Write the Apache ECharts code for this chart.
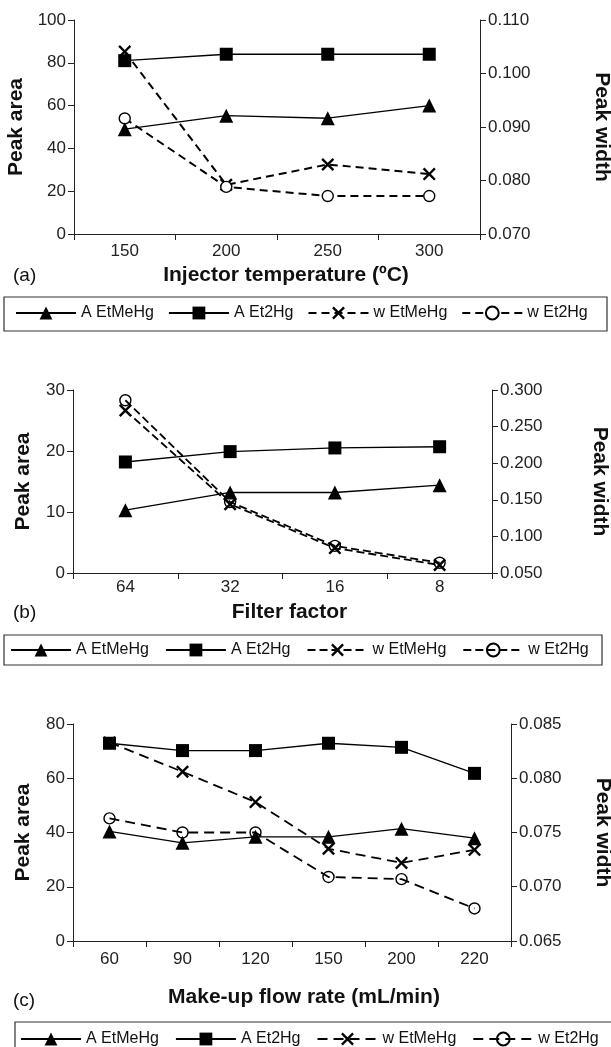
<!DOCTYPE html>
<html>
<head>
<meta charset="utf-8">
<script src="https://cdn.jsdelivr.net/npm/echarts@6/dist/echarts.min.js"></script>
<style>
  html, body { margin: 0; padding: 0; background: #fff; }
  .panel { position: absolute; left: 0; width: 611px; }
</style>
</head>
<body>
<div id="chartA" class="panel" style="top:0; height:340px;"></div>
<div id="chartB" class="panel" style="top:340px; height:330px;"></div>
<div id="chartC" class="panel" style="top:670px; height:377px;"></div>
<script>
// (a) injector temperature
const tempCats = ['150', '200', '250', '300']
const areaEtMeHgA = [49.0, 55.3, 54.1, 60.0]
const areaEt2HgA = [81.0, 84.0, 84.0, 84.0]
const widthEtMeHgA = [0.1041, 0.0792, 0.0830, 0.0812]
const widthEt2HgA = [0.0916, 0.0788, 0.0771, 0.0771]

// (b) filter factor
const filterCats = ['64', '32', '16', '8']
const areaEtMeHgB = [10.3, 13.2, 13.2, 14.4]
const areaEt2HgB = [18.2, 19.9, 20.5, 20.7]
const widthEtMeHgB = [0.272, 0.144, 0.084, 0.061]
const widthEt2HgB = [0.286, 0.147, 0.087, 0.064]

// (c) make-up flow rate
const flowCats = ['60', '90', '120', '150', '200', '220']
const areaEtMeHgC = [40.4, 36.2, 38.4, 38.4, 41.4, 37.9]
const areaEt2HgC = [72.9, 70.2, 70.2, 72.9, 71.4, 61.8]
const widthEtMeHgC = [0.0833, 0.0806, 0.0778, 0.0735, 0.0722, 0.0734]
const widthEt2HgC = [0.0763, 0.0750, 0.0750, 0.0709, 0.0707, 0.0680]

const seriesNames = ['A EtMeHg', 'A Et2Hg', 'w EtMeHg', 'w Et2Hg']
const FONT = '"Liberation Sans", Arial, Helvetica, sans-serif'
const crossPath = 'path://M0,1.3L1.3,0L5,3.7L8.7,0L10,1.3L6.3,5L10,8.7L8.7,10L5,6.3L1.3,10L0,8.7L3.7,5Z'

function drawPanel (id, p) {
  const chart = echarts.init(document.getElementById(id))
  const axisLine = { show: true, lineStyle: { color: '#222', width: 1 } }
  const axisTick = { show: true, length: 6, lineStyle: { color: '#222', width: 1 } }
  const nameStyle = { fontFamily: FONT, fontSize: 21, fontWeight: 'bold', color: '#111' }
  const labelStyle = { fontFamily: FONT, fontSize: 17, color: '#222' }

  const solid = { color: '#000', width: 1.3, type: 'solid' }
  const dashed = { color: '#000', width: p.dashWidth, type: p.dash }

  chart.setOption({
    animation: false,
    textStyle: { fontFamily: FONT },
    grid: Object.assign({ outerBoundsMode: 'none', containLabel: false }, p.grid),
    legend: {
      data: seriesNames,
      left: p.legendLeft,
      top: p.legendTop,
      padding: 0,
      itemWidth: 60,
      itemHeight: 16,
      itemGap: p.legendGap,
      selectedMode: false,
      textStyle: { fontFamily: FONT, fontSize: 16, color: '#111' }
    },
    xAxis: {
      type: 'category',
      data: p.cats,
      axisLine: axisLine,
      axisTick: axisTick,
      axisLabel: Object.assign({ interval: 0, margin: p.xLabelMargin }, labelStyle),
      splitLine: { show: false },
      name: p.xName,
      nameLocation: 'middle',
      nameGap: p.xNameGap,
      nameTextStyle: Object.assign({ padding: [0, 0, 0, p.xNameShift] }, nameStyle)
    },
    yAxis: [
      {
        type: 'value',
        min: p.left.min,
        max: p.left.max,
        interval: p.left.interval,
        axisLine: axisLine,
        axisTick: axisTick,
        axisLabel: Object.assign({ margin: 8 }, labelStyle),
        splitLine: { show: false },
        name: 'Peak area',
        nameLocation: 'middle',
        nameGap: p.leftNameGap,
        nameTextStyle: nameStyle
      },
      {
        type: 'value',
        position: 'right',
        min: p.right.min,
        max: p.right.max,
        interval: p.right.interval,
        axisLine: axisLine,
        axisTick: axisTick,
        axisLabel: Object.assign({ margin: 8, formatter: v => v.toFixed(3) }, labelStyle),
        splitLine: { show: false },
        name: 'Peak width',
        nameLocation: 'middle',
        nameRotate: -90,
        nameGap: p.rightNameGap,
        nameTextStyle: nameStyle
      }
    ],
    series: [
      {
        name: seriesNames[0], type: 'line', yAxisIndex: 0, data: p.areaEtMeHg,
        symbol: 'triangle', symbolSize: 14,
        itemStyle: { color: '#000' }, lineStyle: solid, z: 3
      },
      {
        name: seriesNames[1], type: 'line', yAxisIndex: 0, data: p.areaEt2Hg,
        symbol: 'rect', symbolSize: 13,
        itemStyle: { color: '#000' }, lineStyle: solid, z: 3
      },
      {
        name: seriesNames[2], type: 'line', yAxisIndex: 1, data: p.widthEtMeHg,
        symbol: crossPath, symbolSize: 13,
        itemStyle: { color: '#000' }, lineStyle: dashed, z: 2
      },
      {
        name: seriesNames[3], type: 'line', yAxisIndex: 1, data: p.widthEt2Hg,
        symbol: 'circle', symbolSize: 11,
        itemStyle: { color: p.circleFill, borderColor: '#000', borderWidth: 1.4 },
        lineStyle: dashed, z: 2
      }
    ],
    graphic: [
      {
        type: 'rect', silent: true,
        shape: p.box,
        style: { fill: 'none', stroke: '#333', lineWidth: 1.2 }
      },
      {
        type: 'text', silent: true, left: 13, top: p.tagTop,
        style: { text: p.tag, font: '19px ' + FONT, fill: '#111' }
      }
    ]
  })
}

drawPanel('chartA', {
  cats: tempCats,
  areaEtMeHg: areaEtMeHgA, areaEt2Hg: areaEt2HgA,
  widthEtMeHg: widthEtMeHgA, widthEt2Hg: widthEt2HgA,
  grid: { left: 74, right: 131, top: 20, height: 214 },
  left: { min: 0, max: 100, interval: 20 },
  right: { min: 0.07, max: 0.11, interval: 0.01 },
  xName: 'Injector temperature (ºC)', xNameGap: 28, xNameShift: 18, xLabelMargin: 9,
  leftNameGap: 40, rightNameGap: 111,
  dash: [8, 5], dashWidth: 2, circleFill: '#fff',
  legendLeft: 15, legendTop: 305, legendGap: 14,
  box: { x: 4, y: 297, width: 603, height: 34 },
  tag: '(a)', tagTop: 266
})

drawPanel('chartB', {
  cats: filterCats,
  areaEtMeHg: areaEtMeHgB, areaEt2Hg: areaEt2HgB,
  widthEtMeHg: widthEtMeHgB, widthEt2Hg: widthEt2HgB,
  grid: { left: 73, right: 119, top: 50, height: 183 },
  left: { min: 0, max: 30, interval: 10 },
  right: { min: 0.05, max: 0.3, interval: 0.05 },
  xName: 'Filter factor', xNameGap: 29, xNameShift: 14, xLabelMargin: 6,
  leftNameGap: 39, rightNameGap: 97,
  dash: [8, 4], dashWidth: 1.8, circleFill: 'rgba(0,0,0,0)',
  legendLeft: 10, legendTop: 302, legendGap: 16,
  box: { x: 4, y: 295, width: 598, height: 30 },
  tag: '(b)', tagTop: 263
})

drawPanel('chartC', {
  cats: flowCats,
  areaEtMeHg: areaEtMeHgC, areaEt2Hg: areaEt2HgC,
  widthEtMeHg: widthEtMeHgC, widthEt2Hg: widthEt2HgC,
  grid: { left: 73, right: 100, top: 54, height: 217 },
  left: { min: 0, max: 80, interval: 20 },
  right: { min: 0.065, max: 0.085, interval: 0.005 },
  xName: 'Make-up flow rate (mL/min)', xNameGap: 46, xNameShift: 24, xLabelMargin: 10,
  leftNameGap: 39, rightNameGap: 81,
  dash: [10, 6], dashWidth: 1.8, circleFill: 'rgba(0,0,0,0)',
  legendLeft: 20, legendTop: 361, legendGap: 16,
  box: { x: 15, y: 352, width: 620, height: 40 },
  tag: '(c)', tagTop: 321
})
</script>
</body>
</html>
